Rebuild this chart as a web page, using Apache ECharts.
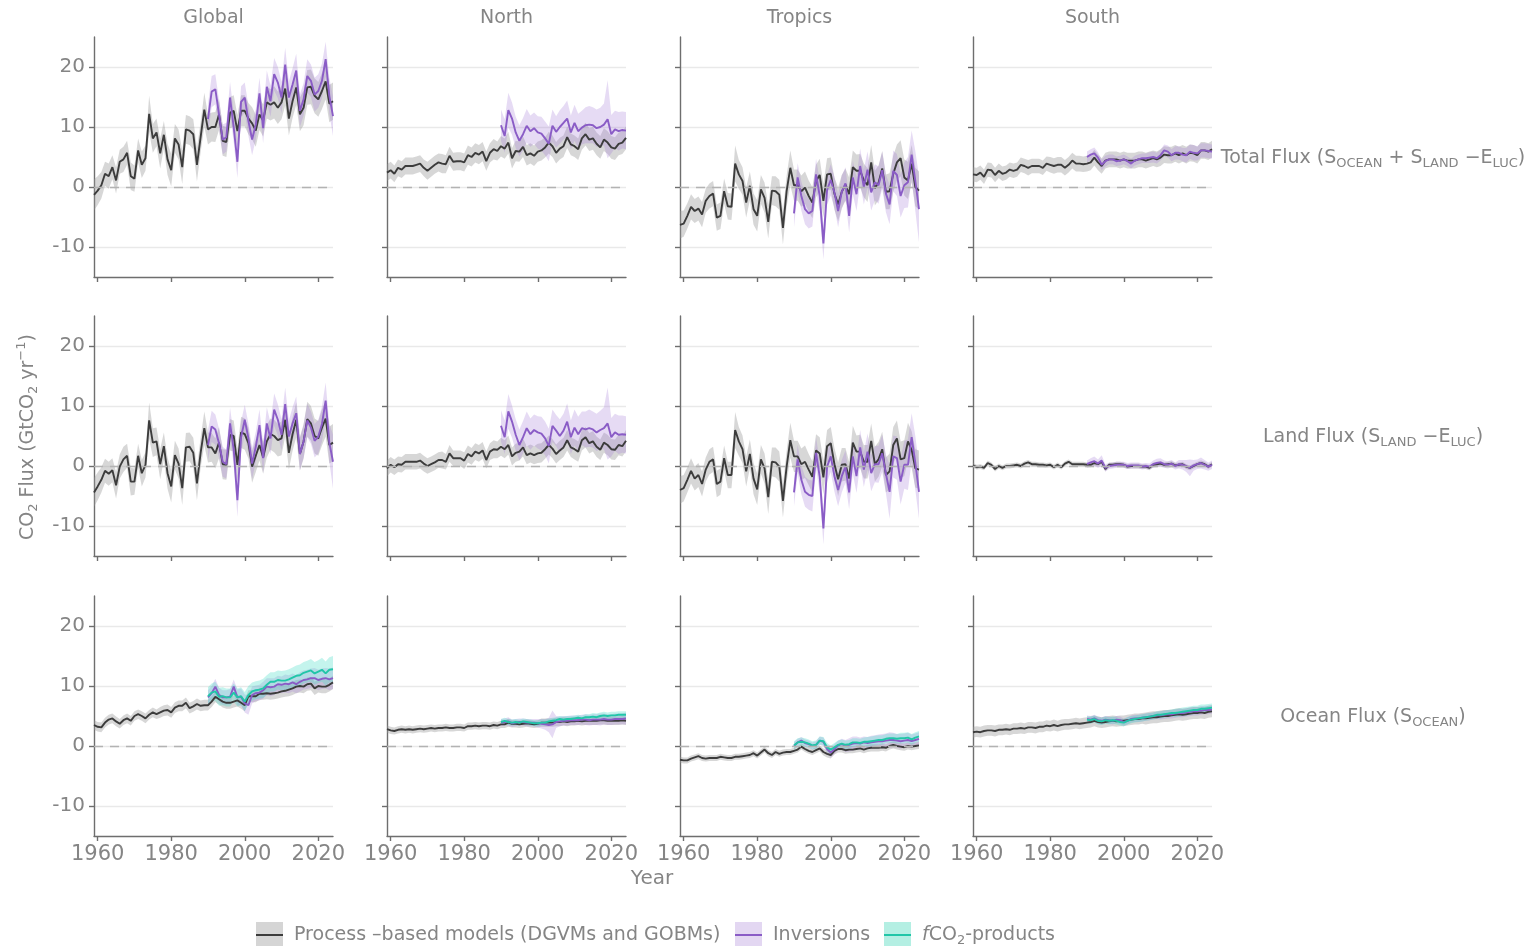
<!DOCTYPE html>
<html>
<head>
<meta charset="utf-8">
<script src="https://cdn.jsdelivr.net/npm/echarts@6/dist/echarts.min.js"></script>
<style>
  html, body { margin: 0; padding: 0; background: #fff; }
  #chart { width: 1534px; height: 946px; }
</style>
</head>
<body>
<div id="chart"></div>
<script>
// years: process models 1959-2024, inversions / fCO2 products 1990-2024
const years = [];
for (let y = 1959; y <= 2024; y++) years.push(y);
const obsYears = years.filter((y) => y >= 1990);

const colNames = ["Global", "North", "Tropics", "South"];
const xTicks = [1960, 1980, 2000, 2020];
const yTicks = [-10, 0, 10, 20];

// ---- Global ----
const procGlobalTotal = [
  -1.3, -0.6, 0.3, 2.2, 1.8, 3.3, 1.1, 4.2, 4.6, 5.7, 1.8,
  1.4, 6.1, 3.7, 4.8, 12.2, 8.1, 9.1, 5.6, 8.7, 4.6,
  2.8, 8.1, 7.1, 3.3, 9.6, 9.4, 8.8, 3.7, 8.3, 12.9,
  9.6, 10.0, 10.0, 12.1, 7.7, 7.5, 12.4, 12.7, 9.3, 12.7,
  12.7, 11.4, 10.6, 9.4, 12.1, 11.1, 14.1, 13.7, 14.1, 13.2,
  14.1, 16.4, 11.4, 14.3, 16.6, 12.1, 13.2, 16.6, 16.7, 15.2,
  14.6, 16.0, 17.6, 13.9, 14.3];
const procGlobalTotalSd = [
  2.6, 2.4, 2.2, 2.0, 2.1, 2.0, 2.2, 2.0, 2.1, 2.0, 2.3,
  2.2, 2.0, 2.2, 2.1, 3.0, 2.4, 2.3, 2.5, 2.3, 2.6,
  2.7, 2.4, 2.5, 2.8, 2.4, 2.4, 2.5, 2.8, 2.5, 2.8,
  2.5, 2.4, 2.5, 2.6, 2.5, 2.5, 2.6, 2.6, 2.7, 2.6,
  2.6, 2.6, 2.7, 2.7, 2.6, 2.7, 2.7, 2.6, 2.7, 2.7,
  2.8, 2.8, 2.8, 2.8, 2.9, 2.8, 2.9, 2.9, 2.9, 2.9,
  2.9, 3.0, 3.0, 3.1, 3.1];
const invGlobalTotal = [
  11.3, 15.9, 16.3, 12.1, 7.9, 8.3, 14.9, 9.9, 4.2, 14.2,
  14.9, 11.0, 7.9, 10.4, 15.6, 9.8, 16.7, 14.3, 18.8, 17.4,
  14.9, 20.4, 14.9, 17.1, 19.4, 12.7, 14.6, 18.5, 17.7, 15.4,
  16.0, 17.7, 21.3, 15.2, 11.8];
const invGlobalTotalSd = [
  2.5, 2.6, 2.5, 2.4, 2.5, 2.4, 2.6, 2.5, 2.7, 2.6,
  2.5, 2.5, 2.6, 2.5, 2.6, 2.5, 2.7, 2.6, 2.7, 2.6,
  2.6, 2.8, 2.7, 2.7, 2.8, 2.7, 2.7, 2.8, 2.7, 2.8,
  2.8, 2.9, 2.9, 3.0, 3.3];

const procGlobalLand = [
  -4.4, -3.4, -2.3, -0.8, -1.3, -0.7, -3.2, -0.1, 1.1, 1.7, -2.6,
  -2.6, 1.7, -1.2, 0.2, 7.6, 3.9, 4.1, 0.3, 3.3, -1.2,
  -3.4, 1.8, 0.4, -3.7, 3.1, 3.2, 2.2, -2.9, 2.2, 6.3,
  3.1, 3.1, 2.1, 3.9, 0.3, 0.2, 5.2, 5.0, 0.2, 5.6,
  5.3, 3.8, -0.1, 1.7, 3.5, 1.4, 4.1, 5.3, 5.0, 4.3,
  4.6, 7.7, 2.2, 5.3, 7.7, 2.0, 4.1, 7.8, 7.1, 5.0,
  4.6, 6.4, 7.9, 3.5, 3.9];
const procGlobalLandSd = [
  2.4, 2.3, 2.1, 2.0, 2.0, 2.0, 2.2, 2.0, 2.1, 2.0, 2.3,
  2.2, 2.0, 2.2, 2.1, 3.0, 2.4, 2.3, 2.5, 2.3, 2.6,
  2.7, 2.4, 2.5, 2.8, 2.4, 2.4, 2.5, 2.8, 2.5, 2.8,
  2.5, 2.4, 2.5, 2.6, 2.5, 2.5, 2.6, 2.6, 2.7, 2.6,
  2.6, 2.6, 2.7, 2.7, 2.6, 2.7, 2.7, 2.6, 2.7, 2.7,
  2.8, 2.8, 2.8, 2.8, 2.9, 2.8, 2.9, 2.9, 2.9, 2.9,
  2.9, 3.0, 3.0, 3.1, 3.1];
const invGlobalLand = [
  3.5, 6.6, 6.1, 3.8, 0.7, 0.3, 7.1, 2.7, -5.7, 4.8,
  7.7, 4.6, 0.4, 3.2, 6.8, 1.3, 7.1, 4.6, 9.4, 7.7,
  5.2, 10.3, 4.9, 7.1, 8.8, 2.0, 4.1, 7.6, 6.4, 4.2,
  4.9, 7.0, 10.9, 3.9, 0.7];
const invGlobalLandSd = [
  2.5, 2.6, 2.5, 2.4, 2.5, 2.4, 2.6, 2.5, 2.8, 2.6,
  2.5, 2.5, 2.6, 2.5, 2.6, 2.5, 2.7, 2.6, 2.7, 2.6,
  2.6, 2.8, 2.7, 2.7, 2.8, 2.7, 2.7, 2.8, 2.7, 2.8,
  2.8, 2.9, 3.0, 3.2, 4.5];

const procGlobalOcean = [
  3.5, 3.2, 3.1, 3.9, 4.4, 4.6, 4.1, 3.7, 4.3, 4.6, 4.2,
  5.0, 5.3, 5.0, 4.6, 5.2, 5.6, 5.3, 5.6, 5.9, 6.0,
  5.6, 6.4, 6.7, 6.7, 7.2, 6.3, 6.6, 7.0, 6.7, 6.8,
  6.8, 7.4, 8.2, 7.8, 7.4, 7.2, 7.2, 7.4, 7.6, 7.2,
  6.8, 8.3, 8.3, 8.3, 8.7, 8.7, 8.8, 8.7, 8.8, 8.9,
  9.1, 9.2, 9.4, 9.6, 9.9, 10.0, 9.9, 10.3, 10.4, 9.6,
  10.0, 9.9, 9.9, 10.2, 10.6];
const procGlobalOceanSd = [
  0.8, 0.8, 0.8, 0.8, 0.8, 0.8, 0.8, 0.8, 0.8, 0.8, 0.8,
  0.8, 0.8, 0.8, 0.8, 0.8, 0.8, 0.8, 0.9, 0.9, 0.9,
  0.9, 0.9, 0.9, 0.9, 0.9, 0.9, 0.9, 0.9, 0.9, 0.9,
  0.9, 0.9, 0.9, 0.9, 1.0, 1.0, 1.0, 1.0, 1.0, 1.0,
  1.0, 1.0, 1.0, 1.0, 1.0, 1.0, 1.0, 1.0, 1.0, 1.0,
  1.0, 1.0, 1.1, 1.1, 1.1, 1.1, 1.1, 1.1, 1.1, 1.1,
  1.1, 1.1, 1.1, 1.1, 1.1];
const invGlobalOcean = [
  8.1, 8.8, 9.9, 8.5, 8.1, 8.1, 8.2, 9.9, 8.1, 8.2,
  7.1, 6.8, 8.5, 8.8, 8.9, 9.3, 9.9, 9.8, 9.9, 10.3,
  10.2, 10.4, 10.3, 10.6, 10.3, 10.7, 11.0, 11.1, 11.3, 11.3,
  11.0, 11.2, 11.3, 11.1, 11.3];
const invGlobalOceanSd = [
  1.2, 1.2, 1.3, 1.2, 1.2, 1.2, 1.3, 1.2, 1.3, 1.4,
  1.5, 1.6, 1.4, 1.3, 1.3, 1.4, 1.4, 1.5, 1.4, 1.4,
  1.4, 1.5, 1.5, 1.5, 1.5, 1.6, 1.6, 1.6, 1.6, 1.7,
  1.7, 1.7, 1.7, 1.8, 1.8];
const fco2GlobalOcean = [
  8.3, 8.9, 9.1, 8.2, 8.3, 8.1, 8.1, 8.9, 8.1, 8.3,
  7.4, 8.5, 9.1, 9.3, 9.4, 9.6, 10.2, 10.7, 10.7, 11.0,
  10.9, 10.9, 11.1, 11.4, 11.7, 11.8, 12.2, 12.4, 12.6, 12.1,
  12.4, 12.7, 12.1, 12.7, 12.8];
const fco2GlobalOceanSd = [
  1.5, 1.5, 1.6, 1.5, 1.5, 1.5, 1.5, 1.5, 1.5, 1.5,
  1.6, 1.5, 1.5, 1.5, 1.5, 1.6, 1.6, 1.6, 1.6, 1.6,
  1.6, 1.7, 1.7, 1.7, 1.7, 1.8, 1.8, 1.8, 1.9, 1.9,
  1.9, 2.0, 2.0, 2.1, 2.2];

// ---- North ----
const procNorthTotal = [
  2.4, 2.8, 2.2, 3.2, 2.9, 3.5, 3.5, 3.5, 3.7, 3.9, 3.2,
  2.7, 3.2, 3.7, 4.1, 3.9, 3.8, 5.2, 4.2, 4.3, 4.3,
  4.1, 5.3, 5.0, 5.7, 5.4, 5.9, 4.3, 5.7, 6.3, 6.0,
  6.8, 6.4, 7.4, 4.8, 6.0, 5.9, 6.7, 5.3, 5.6, 5.2,
  5.9, 6.1, 6.6, 7.4, 6.8, 5.7, 6.4, 6.8, 8.3, 7.1,
  6.8, 6.3, 8.1, 8.8, 7.9, 8.1, 7.2, 6.6, 7.9, 7.4,
  6.6, 6.4, 7.2, 7.4, 8.2];
const procNorthTotalSd = [
  1.4, 1.4, 1.4, 1.4, 1.4, 1.4, 1.4, 1.4, 1.4, 1.4, 1.4,
  1.5, 1.5, 1.5, 1.5, 1.6, 1.5, 1.5, 1.5, 1.5, 1.5,
  1.5, 1.6, 1.6, 1.6, 1.6, 1.6, 1.6, 1.6, 1.7, 1.6,
  1.7, 1.7, 1.8, 1.7, 1.7, 1.7, 1.7, 1.7, 1.7, 1.7,
  1.7, 1.7, 1.7, 1.8, 1.8, 1.8, 1.8, 1.8, 1.8, 1.8,
  1.8, 1.8, 1.9, 1.9, 1.9, 1.9, 1.9, 1.9, 1.9, 1.9,
  1.9, 1.9, 1.9, 1.9, 1.9];
const invNorthTotal = [
  10.3, 8.5, 12.8, 11.4, 9.1, 7.7, 8.8, 10.2, 9.3, 9.8,
  9.1, 8.9, 8.1, 7.2, 10.2, 9.2, 10.0, 10.7, 11.4, 9.1,
  10.7, 9.3, 9.9, 10.3, 10.4, 10.3, 9.8, 10.0, 10.4, 11.3,
  8.8, 9.6, 9.3, 9.5, 9.4];
const invNorthTotalSd = [
  2.6, 2.8, 2.9, 2.7, 2.6, 2.6, 2.7, 2.8, 2.6, 2.6,
  2.7, 2.8, 2.8, 2.9, 2.7, 2.6, 2.8, 2.8, 3.0, 2.8,
  3.0, 2.9, 2.8, 3.0, 3.1, 3.0, 3.1, 3.2, 3.5, 6.5,
  3.2, 3.1, 3.2, 3.1, 3.1];

const procNorthLand = [
  -0.4, 0.2, -0.2, 0.3, 0.2, 0.7, 0.7, 0.7, 0.7, 0.9, 0.4,
  0.0, 0.3, 0.6, 1.0, 1.0, 0.7, 2.1, 1.3, 1.3, 1.3,
  0.9, 2.0, 1.6, 2.4, 2.1, 2.6, 1.0, 2.4, 2.8, 2.7,
  3.2, 2.8, 3.5, 1.6, 2.2, 2.4, 3.1, 1.8, 2.1, 1.8,
  2.1, 2.2, 2.8, 3.5, 2.9, 2.0, 2.6, 3.1, 4.3, 3.1,
  2.8, 2.4, 4.3, 4.8, 3.8, 4.1, 3.2, 2.7, 3.9, 3.5,
  2.8, 2.7, 3.5, 3.3, 4.2];
const procNorthLandSd = [
  1.3, 1.3, 1.3, 1.3, 1.3, 1.3, 1.3, 1.3, 1.3, 1.3, 1.3,
  1.3, 1.3, 1.3, 1.3, 1.4, 1.3, 1.4, 1.3, 1.3, 1.3,
  1.4, 1.4, 1.4, 1.4, 1.4, 1.4, 1.4, 1.4, 1.5, 1.4,
  1.5, 1.5, 1.6, 1.5, 1.5, 1.5, 1.5, 1.5, 1.5, 1.5,
  1.6, 1.6, 1.6, 1.6, 1.6, 1.6, 1.6, 1.6, 1.7, 1.6,
  1.7, 1.7, 1.7, 1.7, 1.7, 1.7, 1.7, 1.7, 1.7, 1.7,
  1.7, 1.7, 1.7, 1.7, 1.8];
const invNorthLand = [
  6.7, 4.8, 9.1, 7.4, 5.2, 3.5, 4.8, 6.3, 5.3, 6.0,
  5.6, 5.4, 4.6, 3.3, 6.7, 5.9, 5.0, 5.9, 7.4, 4.8,
  6.4, 5.3, 6.3, 6.1, 6.3, 6.1, 5.6, 6.0, 6.3, 7.1,
  4.8, 5.6, 5.2, 5.3, 5.2];
const invNorthLandSd = [
  2.6, 2.8, 2.9, 2.7, 2.6, 2.6, 2.7, 2.8, 2.6, 2.6,
  2.7, 2.8, 2.8, 2.9, 2.7, 2.6, 2.8, 2.8, 3.0, 2.8,
  3.0, 2.9, 2.8, 3.0, 3.1, 3.0, 3.1, 3.2, 3.5, 6.0,
  3.2, 3.1, 3.2, 3.1, 3.1];

const procNorthOcean = [
  2.8, 2.6, 2.5, 2.7, 2.8, 2.7, 2.8, 2.7, 2.8, 2.9, 2.8,
  2.9, 3.0, 2.9, 3.0, 3.0, 3.1, 3.0, 3.0, 3.1, 3.1,
  3.0, 3.3, 3.3, 3.4, 3.3, 3.4, 3.4, 3.3, 3.5, 3.4,
  3.6, 3.6, 3.9, 3.7, 3.7, 3.6, 3.7, 3.8, 3.7, 3.6,
  3.7, 3.9, 3.9, 3.9, 3.9, 4.0, 4.0, 4.1, 4.0, 4.1,
  4.1, 4.2, 4.1, 4.2, 4.2, 4.2, 4.2, 4.3, 4.3, 4.2,
  4.2, 4.2, 4.2, 4.3, 4.2];
const procNorthOceanSd = [
  0.6, 0.6, 0.6, 0.6, 0.6, 0.6, 0.6, 0.6, 0.6, 0.6, 0.6,
  0.6, 0.6, 0.6, 0.6, 0.6, 0.6, 0.6, 0.6, 0.6, 0.6,
  0.6, 0.6, 0.6, 0.6, 0.6, 0.6, 0.6, 0.6, 0.6, 0.6,
  0.6, 0.6, 0.7, 0.6, 0.6, 0.6, 0.6, 0.6, 0.6, 0.6,
  0.6, 0.7, 0.7, 0.7, 0.7, 0.7, 0.7, 0.7, 0.7, 0.7,
  0.7, 0.7, 0.7, 0.7, 0.7, 0.7, 0.7, 0.7, 0.7, 0.7,
  0.7, 0.7, 0.7, 0.7, 0.7];
const invNorthOcean = [
  3.9, 4.0, 4.1, 3.8, 3.9, 4.0, 4.0, 3.9, 3.9, 3.9,
  3.8, 3.7, 3.6, 3.5, 3.6, 4.0, 4.1, 4.2, 4.2, 4.3,
  4.3, 4.3, 4.4, 4.4, 4.3, 4.4, 4.4, 4.4, 4.5, 4.4,
  4.4, 4.5, 4.5, 4.5, 4.6];
const invNorthOceanSd = [
  0.6, 0.6, 0.7, 0.6, 0.6, 0.6, 0.6, 0.6, 0.6, 0.6,
  0.7, 0.8, 0.9, 1.2, 2.3, 1.0, 0.8, 0.8, 0.8, 0.8,
  0.8, 0.8, 0.8, 0.9, 0.9, 0.9, 0.9, 1.0, 0.9, 0.9,
  0.9, 0.9, 0.9, 0.9, 1.0];
const fco2NorthOcean = [
  4.0, 4.2, 4.0, 3.9, 4.0, 3.9, 4.1, 4.0, 3.9, 3.8,
  3.8, 3.9, 3.9, 4.1, 4.2, 4.3, 4.5, 4.4, 4.5, 4.5,
  4.6, 4.7, 4.6, 4.8, 4.8, 4.9, 4.8, 5.0, 5.1, 5.0,
  5.1, 5.1, 5.2, 5.2, 5.2];
const fco2NorthOceanSd = [
  0.5, 0.5, 0.5, 0.5, 0.5, 0.5, 0.5, 0.5, 0.5, 0.5,
  0.5, 0.5, 0.5, 0.5, 0.5, 0.5, 0.5, 0.5, 0.5, 0.5,
  0.5, 0.5, 0.5, 0.5, 0.5, 0.6, 0.6, 0.6, 0.6, 0.6,
  0.6, 0.6, 0.6, 0.6, 0.6];

// ---- Tropics ----
const procTropicsTotal = [
  -6.3, -6.1, -4.8, -3.3, -4.0, -3.6, -4.6, -2.3, -1.5, -1.1, -5.1,
  -4.8, -0.7, -3.2, -3.3, 3.9, 2.1, 1.0, -2.6, 0.2, -3.7,
  -4.8, -0.4, -1.8, -5.8, -0.6, -0.7, -1.3, -6.8, -0.7, 3.2,
  0.3, 0.3, -0.7, -0.1, -1.5, -2.6, 1.0, 2.0, -2.3, 2.1,
  2.2, -1.1, -2.9, -0.8, 0.4, -1.2, 3.3, 2.7, 2.7, 1.1,
  0.3, 4.1, -0.2, 0.7, 3.1, -0.8, -0.7, 2.2, 4.1, 4.8,
  1.6, 1.1, 3.9, 0.0, -0.6];
const procTropicsTotalSd = [
  2.3, 2.2, 2.1, 2.1, 2.0, 2.0, 2.1, 2.0, 2.1, 2.1, 2.2,
  2.2, 2.1, 2.2, 2.2, 3.0, 2.4, 2.3, 2.5, 2.4, 2.6,
  2.6, 2.4, 2.5, 2.8, 2.4, 2.5, 2.5, 2.8, 2.6, 2.9,
  2.6, 2.6, 2.6, 2.7, 2.6, 2.6, 2.7, 2.7, 2.8, 2.7,
  2.7, 2.7, 2.8, 2.8, 2.7, 2.8, 2.8, 2.7, 2.8, 2.8,
  2.8, 2.9, 2.9, 2.9, 2.9, 2.9, 3.0, 3.0, 3.0, 3.0,
  3.0, 3.1, 3.1, 3.2, 3.2];
const invTropicsTotal = [
  -4.4, 1.6, -1.5, -3.7, -4.4, -4.0, 2.1, -1.5, -9.4, -0.5,
  1.2, -0.9, -4.0, -0.8, 0.6, -4.8, 1.6, -1.2, 3.5, 0.0,
  2.9, -0.9, 0.8, 0.3, 2.8, -1.1, -2.9, 2.7, 2.0, -1.5,
  0.3, 0.8, 5.4, 1.0, -3.7];
const invTropicsTotalSd = [
  2.3, 2.4, 2.4, 2.5, 2.5, 2.6, 2.6, 2.6, 2.7, 2.5,
  2.6, 2.6, 2.7, 2.7, 2.7, 2.8, 2.8, 2.8, 2.9, 2.9,
  3.0, 3.0, 3.0, 3.1, 3.1, 3.1, 3.3, 3.4, 3.5, 3.6,
  3.8, 4.2, 4.0, 5.0, 5.5];

const procTropicsLand = [
  -4.0, -3.7, -2.3, -0.8, -2.1, -1.5, -3.0, -0.6, 0.7, 1.1, -3.0,
  -2.6, 1.3, -1.5, -1.5, 6.0, 4.1, 2.8, -0.9, 2.0, -2.1,
  -3.9, 1.1, -0.4, -5.2, 0.7, 0.6, -0.1, -5.8, -0.1, 4.3,
  1.6, 1.6, 0.3, 0.7, -0.6, -1.8, 2.6, 2.1, -1.9, 3.3,
  3.8, 0.3, -2.2, 0.2, 0.3, -2.1, 3.9, 2.4, 2.4, 0.7,
  0.7, 4.2, 0.3, 1.1, 2.8, -1.5, -0.9, 3.5, 4.6, 1.1,
  1.3, 4.1, 2.7, -0.4, -0.6];
const procTropicsLandSd = [
  2.3, 2.2, 2.1, 2.1, 2.0, 2.0, 2.1, 2.0, 2.1, 2.1, 2.2,
  2.2, 2.1, 2.2, 2.2, 3.0, 2.4, 2.3, 2.5, 2.4, 2.6,
  2.6, 2.4, 2.5, 2.8, 2.4, 2.5, 2.5, 2.8, 2.6, 2.9,
  2.6, 2.6, 2.6, 2.7, 2.6, 2.6, 2.7, 2.7, 2.8, 2.7,
  2.7, 2.7, 2.8, 2.8, 2.7, 2.8, 2.8, 2.7, 2.8, 2.8,
  2.8, 2.9, 2.9, 2.9, 2.9, 2.9, 3.0, 3.0, 3.0, 3.0,
  3.0, 3.1, 3.1, 3.2, 3.2];
const invTropicsLand = [
  -4.4, 1.1, -2.3, -4.3, -4.8, -5.0, 2.2, -1.8, -10.4, -0.1,
  1.6, -1.7, -4.0, -1.7, -0.1, -4.4, 1.6, -1.7, 3.1, -0.6,
  2.4, -1.2, 0.3, 0.3, 2.1, -1.3, -4.3, 1.6, 1.3, -2.6,
  0.2, 0.2, 4.8, 0.5, -4.3];
const invTropicsLandSd = [
  2.3, 2.4, 2.4, 2.5, 2.5, 2.6, 2.6, 2.6, 2.7, 2.6,
  2.6, 2.6, 2.7, 2.7, 2.7, 2.8, 2.8, 2.8, 2.9, 2.9,
  3.0, 3.0, 3.0, 3.1, 3.1, 3.2, 4.5, 3.5, 3.6, 3.8,
  4.0, 4.2, 4.0, 4.5, 4.5];

const procTropicsOcean = [
  -2.3, -2.4, -2.4, -2.1, -1.9, -1.7, -2.0, -2.1, -2.0, -2.0, -2.0,
  -1.8, -1.9, -2.0, -2.0, -1.8, -1.8, -1.7, -1.6, -1.5, -1.2,
  -1.6, -1.1, -0.6, -1.2, -1.5, -1.0, -1.3, -1.1, -1.0, -1.0,
  -0.8, -0.6, -0.1, -0.5, -0.8, -1.0, -0.7, -0.4, -1.0, -1.3,
  -1.5, -0.8, -0.5, -0.5, -0.7, -0.6, -0.6, -0.5, -0.4, -0.6,
  -0.4, -0.3, -0.3, -0.3, -0.2, -0.3, 0.0, 0.2, 0.0, -0.1,
  -0.2, 0.0, -0.1, 0.0, 0.1];
const procTropicsOceanSd = [
  0.5, 0.5, 0.5, 0.5, 0.5, 0.5, 0.5, 0.5, 0.5, 0.5, 0.5,
  0.5, 0.5, 0.5, 0.5, 0.5, 0.5, 0.5, 0.5, 0.5, 0.5,
  0.5, 0.5, 0.5, 0.5, 0.5, 0.5, 0.5, 0.5, 0.5, 0.5,
  0.5, 0.5, 0.5, 0.5, 0.5, 0.5, 0.5, 0.5, 0.6, 0.6,
  0.6, 0.6, 0.6, 0.6, 0.6, 0.6, 0.6, 0.6, 0.6, 0.6,
  0.6, 0.6, 0.6, 0.6, 0.6, 0.6, 0.6, 0.6, 0.6, 0.6,
  0.6, 0.6, 0.6, 0.6, 0.6];
const invTropicsOcean = [
  0.0, 0.6, 0.9, 0.5, 0.3, 0.0, 0.2, 0.9, 0.7, -0.5,
  -1.1, -0.5, 0.1, 0.3, 0.0, 0.2, 0.4, 0.5, 0.4, 0.6,
  0.5, 0.6, 0.7, 0.8, 0.8, 0.9, 1.0, 1.0, 0.9, 0.8,
  0.9, 1.0, 0.8, 1.0, 1.2];
const invTropicsOceanSd = [
  0.6, 0.6, 0.6, 0.6, 0.6, 0.6, 0.6, 0.7, 0.7, 0.7,
  0.8, 0.8, 0.8, 0.9, 1.0, 1.1, 1.2, 1.1, 1.0, 1.0,
  1.0, 1.1, 1.1, 1.1, 1.2, 1.2, 1.3, 1.2, 1.1, 1.2,
  1.2, 1.2, 1.1, 1.1, 1.1];
const fco2TropicsOcean = [
  0.1, 0.6, 0.7, 0.6, 0.4, 0.1, 0.2, 0.9, 0.8, -0.2,
  -0.6, -0.2, 0.2, 0.4, 0.2, 0.3, 0.6, 0.6, 0.5, 0.7,
  0.7, 0.8, 0.9, 1.0, 1.0, 1.2, 1.3, 1.3, 1.2, 1.3,
  1.3, 1.4, 1.1, 1.4, 1.6];
const fco2TropicsOceanSd = [
  0.7, 0.7, 0.7, 0.7, 0.7, 0.7, 0.7, 0.7, 0.7, 0.7,
  0.7, 0.7, 0.7, 0.7, 0.7, 0.7, 0.7, 0.7, 0.7, 0.7,
  0.8, 0.8, 0.8, 0.8, 0.8, 0.8, 0.8, 0.8, 0.8, 0.9,
  0.9, 0.9, 0.9, 0.9, 0.9];

// ---- South ----
const procSouthTotal = [
  2.1, 2.0, 2.4, 1.7, 2.9, 2.8, 2.0, 2.7, 2.2, 2.4, 2.9,
  2.7, 2.9, 3.7, 3.5, 3.2, 3.5, 3.5, 3.5, 3.2, 3.9,
  3.7, 3.5, 3.7, 3.7, 3.2, 3.7, 4.4, 3.9, 3.9, 3.8,
  3.9, 4.1, 4.9, 4.1, 3.5, 4.4, 4.6, 4.6, 4.6, 4.4,
  4.6, 4.4, 4.4, 4.4, 4.6, 4.6, 4.4, 4.6, 4.8, 4.6,
  4.9, 5.4, 5.3, 5.3, 5.6, 5.3, 5.6, 5.3, 5.7, 5.6,
  5.3, 6.1, 6.1, 5.9, 6.3];
const procSouthTotalSd = [
  1.2, 1.2, 1.2, 1.2, 1.2, 1.2, 1.2, 1.2, 1.2, 1.2, 1.2,
  1.2, 1.2, 1.2, 1.2, 1.3, 1.2, 1.2, 1.2, 1.2, 1.2,
  1.3, 1.3, 1.3, 1.3, 1.3, 1.3, 1.3, 1.3, 1.3, 1.3,
  1.3, 1.3, 1.3, 1.3, 1.3, 1.3, 1.3, 1.3, 1.3, 1.3,
  1.3, 1.3, 1.3, 1.3, 1.3, 1.3, 1.3, 1.3, 1.3, 1.3,
  1.4, 1.4, 1.4, 1.4, 1.4, 1.4, 1.4, 1.4, 1.4, 1.4,
  1.4, 1.4, 1.4, 1.4, 1.4];
const invSouthTotal = [
  5.0, 5.4, 5.6, 4.9, 3.7, 4.3, 4.6, 4.6, 4.3, 4.4,
  4.6, 4.3, 3.9, 4.4, 4.6, 4.8, 4.8, 4.9, 5.0, 4.8,
  5.3, 6.1, 5.9, 5.3, 5.7, 5.7, 5.4, 5.3, 5.9, 5.7,
  5.6, 6.1, 6.1, 6.0, 5.9];
const invSouthTotalSd = [
  0.9, 0.9, 1.0, 0.9, 0.9, 0.9, 0.8, 0.8, 0.8, 0.8,
  0.8, 0.8, 0.8, 0.8, 0.8, 0.8, 0.8, 0.9, 0.9, 0.9,
  0.9, 1.0, 1.0, 1.0, 1.1, 1.1, 1.1, 1.2, 1.2, 1.3,
  1.2, 1.2, 1.2, 1.2, 1.2];

const procSouthLand = [
  0.1, -0.2, -0.1, -0.3, 0.5, 0.2, -0.5, 0.0, -0.3, 0.0, 0.0,
  0.1, 0.2, 0.0, 0.4, 0.6, 0.3, 0.3, 0.2, 0.2, 0.1,
  0.2, -0.2, 0.2, -0.2, 0.4, 0.7, 0.3, 0.3, 0.3, 0.3,
  0.2, 0.2, 0.5, 0.3, 0.7, -0.5, 0.2, 0.2, 0.3, 0.3,
  0.2, -0.1, 0.0, 0.0, 0.0, -0.1, -0.1, -0.3, 0.2, 0.3,
  0.4, 0.2, 0.3, 0.4, 0.1, 0.2, 0.3, -0.1, -0.3, 0.0,
  0.3, 0.5, 0.3, -0.1, 0.3];
const procSouthLandSd = [
  0.4, 0.4, 0.4, 0.4, 0.4, 0.4, 0.4, 0.4, 0.4, 0.4, 0.4,
  0.4, 0.4, 0.4, 0.4, 0.4, 0.4, 0.4, 0.4, 0.4, 0.4,
  0.4, 0.4, 0.4, 0.4, 0.4, 0.4, 0.4, 0.4, 0.4, 0.4,
  0.4, 0.4, 0.4, 0.4, 0.4, 0.4, 0.4, 0.4, 0.4, 0.4,
  0.4, 0.4, 0.4, 0.4, 0.4, 0.4, 0.4, 0.4, 0.4, 0.4,
  0.4, 0.4, 0.4, 0.4, 0.4, 0.4, 0.4, 0.4, 0.4, 0.4,
  0.4, 0.4, 0.4, 0.4, 0.4];
const invSouthLand = [
  0.3, 0.6, 0.8, 0.4, 0.9, -0.3, 0.0, 0.1, 0.2, 0.2,
  0.2, 0.0, 0.1, 0.1, 0.1, -0.1, 0.0, -0.1, 0.3, 0.5,
  0.6, 0.3, 0.2, 0.4, 0.0, 0.3, 0.2, 0.0, -0.3, 0.1,
  0.3, 0.5, 0.2, -0.1, 0.2];
const invSouthLandSd = [
  0.6, 0.7, 0.8, 0.7, 0.9, 0.6, 0.5, 0.5, 0.5, 0.5,
  0.5, 0.5, 0.5, 0.5, 0.5, 0.5, 0.5, 0.5, 0.6, 0.7,
  0.7, 0.6, 0.6, 0.6, 0.6, 0.7, 0.8, 1.0, 1.4, 0.9,
  0.8, 0.9, 0.8, 0.7, 0.7];

const procSouthOcean = [
  2.3, 2.4, 2.3, 2.5, 2.6, 2.6, 2.5, 2.7, 2.7, 2.8, 2.7,
  2.9, 2.9, 3.0, 2.9, 3.1, 3.1, 3.0, 3.2, 3.2, 3.4,
  3.3, 3.5, 3.3, 3.5, 3.6, 3.6, 3.7, 3.8, 3.7, 3.8,
  3.9, 4.0, 4.2, 4.0, 3.9, 4.0, 4.1, 4.2, 4.1, 4.2,
  4.2, 4.3, 4.4, 4.5, 4.5, 4.6, 4.6, 4.7, 4.8, 4.8,
  4.9, 5.0, 5.0, 5.1, 5.2, 5.3, 5.2, 5.3, 5.4, 5.5,
  5.5, 5.6, 5.5, 5.7, 5.8];
const procSouthOceanSd = [
  0.9, 0.9, 0.9, 0.9, 0.9, 0.9, 0.9, 0.9, 0.9, 0.9, 0.9,
  0.9, 0.9, 0.9, 0.9, 0.9, 0.9, 0.9, 0.9, 0.9, 0.9,
  0.9, 0.9, 0.9, 0.9, 0.9, 0.9, 0.9, 0.9, 0.9, 0.9,
  0.9, 0.9, 0.9, 0.9, 0.9, 0.9, 0.9, 0.9, 0.9, 0.9,
  0.9, 0.9, 0.9, 0.9, 0.9, 0.9, 1.0, 1.0, 1.0, 1.0,
  1.0, 1.0, 1.0, 1.0, 1.0, 1.0, 1.0, 1.0, 1.0, 1.0,
  1.0, 1.0, 1.0, 1.0, 1.0];
const invSouthOcean = [
  4.5, 4.4, 4.6, 4.3, 4.2, 4.4, 4.3, 4.2, 4.4, 4.3,
  4.0, 4.2, 4.5, 4.6, 4.6, 4.7, 4.8, 4.9, 5.0, 5.1,
  5.1, 5.2, 5.3, 5.3, 5.4, 5.5, 5.5, 5.6, 5.7, 5.8,
  5.8, 5.9, 6.0, 6.0, 6.1];
const invSouthOceanSd = [
  0.6, 0.6, 0.6, 0.6, 0.6, 0.6, 0.6, 0.6, 0.6, 0.6,
  0.6, 0.6, 0.6, 0.6, 0.6, 0.6, 0.6, 0.6, 0.6, 0.6,
  0.7, 0.7, 0.7, 0.7, 0.7, 0.7, 0.7, 0.7, 0.7, 0.7,
  0.7, 0.7, 0.7, 0.7, 0.7];
const fco2SouthOcean = [
  4.4, 4.3, 4.5, 4.2, 4.1, 4.3, 4.2, 4.3, 4.2, 4.0,
  3.9, 4.2, 4.4, 4.5, 4.6, 4.7, 4.8, 4.9, 5.0, 5.2,
  5.2, 5.3, 5.4, 5.5, 5.5, 5.6, 5.7, 5.8, 5.9, 6.0,
  6.0, 6.2, 6.2, 6.3, 6.4];
const fco2SouthOceanSd = [
  0.6, 0.6, 0.6, 0.6, 0.6, 0.6, 0.6, 0.6, 0.6, 0.6,
  0.6, 0.6, 0.6, 0.6, 0.6, 0.6, 0.6, 0.6, 0.6, 0.6,
  0.6, 0.6, 0.6, 0.6, 0.7, 0.7, 0.7, 0.7, 0.7, 0.7,
  0.7, 0.7, 0.7, 0.7, 0.7];

// panels, row by row (Total, Land, Ocean) x (Global, North, Tropics, South)
const panels = [
  { proc: procGlobalTotal, procSd: procGlobalTotalSd, inv: invGlobalTotal, invSd: invGlobalTotalSd },
  { proc: procNorthTotal, procSd: procNorthTotalSd, inv: invNorthTotal, invSd: invNorthTotalSd },
  { proc: procTropicsTotal, procSd: procTropicsTotalSd, inv: invTropicsTotal, invSd: invTropicsTotalSd },
  { proc: procSouthTotal, procSd: procSouthTotalSd, inv: invSouthTotal, invSd: invSouthTotalSd },
  { proc: procGlobalLand, procSd: procGlobalLandSd, inv: invGlobalLand, invSd: invGlobalLandSd },
  { proc: procNorthLand, procSd: procNorthLandSd, inv: invNorthLand, invSd: invNorthLandSd },
  { proc: procTropicsLand, procSd: procTropicsLandSd, inv: invTropicsLand, invSd: invTropicsLandSd },
  { proc: procSouthLand, procSd: procSouthLandSd, inv: invSouthLand, invSd: invSouthLandSd },
  { proc: procGlobalOcean, procSd: procGlobalOceanSd, inv: invGlobalOcean, invSd: invGlobalOceanSd, fco2: fco2GlobalOcean, fco2Sd: fco2GlobalOceanSd },
  { proc: procNorthOcean, procSd: procNorthOceanSd, inv: invNorthOcean, invSd: invNorthOceanSd, fco2: fco2NorthOcean, fco2Sd: fco2NorthOceanSd },
  { proc: procTropicsOcean, procSd: procTropicsOceanSd, inv: invTropicsOcean, invSd: invTropicsOceanSd, fco2: fco2TropicsOcean, fco2Sd: fco2TropicsOceanSd },
  { proc: procSouthOcean, procSd: procSouthOceanSd, inv: invSouthOcean, invSd: invSouthOceanSd, fco2: fco2SouthOcean, fco2Sd: fco2SouthOceanSd },
];

panels.forEach((p, i) => {
  const bad = [];
  if (p.proc.length !== years.length || p.procSd.length !== years.length) bad.push("proc");
  if (p.inv.length !== obsYears.length || p.invSd.length !== obsYears.length) bad.push("inv");
  if (p.fco2 && (p.fco2.length !== obsYears.length || p.fco2Sd.length !== obsYears.length)) bad.push("fco2");
  if (bad.length) console.error("panel " + i + " length mismatch: " + bad.join(","));
});

const FONT = "DejaVu Sans";
const GREY_TXT = "#858585";
const AXIS_COL = "#6e6e6e";
const colLeft = [94, 387, 680, 973];
const rowTop = [37, 316, 596];
const panelW = 239, panelH = 240;

const colors = {
  proc: { line: "#3c3c3c", band: "rgba(150,150,150,0.38)", key: "#d5d5d5" },
  inv: { line: "#8a5cc6", band: "rgba(165,125,215,0.28)", key: "#e3d7f2" },
  fco2: { line: "#21c6a8", band: "rgba(70,220,200,0.32)", key: "#b4efe3" },
};

function band(gi, yrs, mean, sd, fill) {
  const data = yrs.map((y, i) => [y, mean[i] - sd[i], mean[i] + sd[i]]);
  return {
    type: "custom",
    xAxisIndex: gi, yAxisIndex: gi,
    silent: true, z: 1,
    data: data,
    encode: { x: 0, y: [1, 2] },
    renderItem: (params, api) => {
      if (params.dataIndex !== 0) return null;
      const up = data.map((d) => api.coord([d[0], d[2]]));
      const dn = data.map((d) => api.coord([d[0], d[1]])).reverse();
      return { type: "polygon", shape: { points: up.concat(dn) }, style: { fill: fill } };
    },
  };
}

function line(gi, yrs, vals, color, extra) {
  return Object.assign({
    type: "line",
    xAxisIndex: gi, yAxisIndex: gi,
    data: yrs.map((y, i) => [y, vals[i]]),
    showSymbol: false, symbol: "none",
    silent: true, z: 3,
    lineStyle: { color: color, width: 1.9 },
    itemStyle: { color: color },
  }, extra || {});
}

const grids = [], xAxes = [], yAxes = [], series = [];
panels.forEach((p, gi) => {
  const r = Math.floor(gi / 4), c = gi % 4;
  grids.push({ left: colLeft[c], top: rowTop[r], width: panelW, height: panelH });
  xAxes.push({
    type: "value", gridIndex: gi, min: 1959, max: 2024,
    axisLine: { show: true, onZero: false, lineStyle: { color: AXIS_COL, width: 1.4 } },
    axisTick: { show: true, length: 5, customValues: xTicks, lineStyle: { color: AXIS_COL, width: 1.4 } },
    axisLabel: {
      show: r === 2, customValues: xTicks, formatter: (v) => String(v),
      fontSize: 21, fontFamily: FONT, color: GREY_TXT, margin: 8,
    },
    splitLine: { show: false },
  });
  yAxes.push({
    type: "value", gridIndex: gi, min: -15, max: 25,
    axisLine: { show: true, onZero: false, lineStyle: { color: AXIS_COL, width: 1.4 } },
    axisTick: { show: true, length: 5, customValues: yTicks, lineStyle: { color: AXIS_COL, width: 1.4 } },
    axisLabel: { show: c === 0, customValues: yTicks, formatter: (v) => String(v), fontSize: 20, fontFamily: FONT, color: GREY_TXT, margin: 9 },
    splitLine: { show: true, lineStyle: { color: "#e9e9e9", width: 1.3 } },
  });

  series.push(band(gi, years, p.proc, p.procSd, colors.proc.band));
  series.push(band(gi, obsYears, p.inv, p.invSd, colors.inv.band));
  if (p.fco2) series.push(band(gi, obsYears, p.fco2, p.fco2Sd, colors.fco2.band));

  series.push(line(gi, years, p.proc, colors.proc.line, {
    markLine: {
      silent: true, symbol: "none", animation: false,
      label: { show: false },
      lineStyle: { type: [9, 7], color: "#b3b3b3", width: 1.4 },
      data: [{ yAxis: 0 }],
    },
  }));
  series.push(line(gi, obsYears, p.inv, colors.inv.line));
  if (p.fco2) series.push(line(gi, obsYears, p.fco2, colors.fco2.line));
});

// text elements
const txt = (x, y, text, size, extra) => ({
  type: "text", x: x, y: y, silent: true,
  style: Object.assign({ text: text, fill: GREY_TXT, fontSize: size, fontFamily: FONT, align: "center", verticalAlign: "middle" }, extra || {}),
});
const richSub = {
  b: { fontSize: 19, fontFamily: FONT, fill: GREY_TXT, lineHeight: 26, verticalAlign: "middle" },
  s: { fontSize: 13, fontFamily: FONT, fill: GREY_TXT, lineHeight: 26, verticalAlign: "bottom", padding: [0, 0, 1, 0] },
  p: { fontSize: 13, fontFamily: FONT, fill: GREY_TXT, lineHeight: 26, verticalAlign: "top" },
  i: { fontSize: 19, fontFamily: FONT, fontStyle: "italic", fill: GREY_TXT, lineHeight: 26, verticalAlign: "middle" },
};

const graphics = [];
colNames.forEach((n, c) => graphics.push(txt(colLeft[c] + panelW / 2, 18, n, 19)));
graphics.push(txt(652, 879, "Year", 20));

const rowLabels = [
  "{b|Total Flux (S}{s|OCEAN}{b| + S}{s|LAND}{b| \u2212E}{s|LUC}{b|)}",
  "{b|Land Flux (S}{s|LAND}{b| \u2212E}{s|LUC}{b|)}",
  "{b|Ocean Flux (S}{s|OCEAN}{b|)}",
];
const rowLabelY = [158, 437, 717];
rowLabels.forEach((t, r) => graphics.push(txt(1373, rowLabelY[r], t, 19, { rich: richSub })));

graphics.push({
  type: "text", x: 28, y: 437, rotation: Math.PI / 2, silent: true,
  style: {
    text: "{b|CO}{s|2}{b| Flux (GtCO}{s|2}{b| yr}{p|\u22121}{b|)}",
    rich: richSub, align: "center", verticalAlign: "middle", fill: GREY_TXT, fontFamily: FONT, fontSize: 19,
  },
});

// legend keys
const legendItems = [
  { x: 256, key: colors.proc, label: "{b|Process \u2013based models (DGVMs and GOBMs)}" },
  { x: 735, key: colors.inv, label: "{b|Inversions}" },
  { x: 884, key: colors.fco2, label: "{i|f}{b|CO}{s|2}{b|-products}" },
];
legendItems.forEach((it) => {
  graphics.push({ type: "rect", silent: true, shape: { x: it.x, y: 922, width: 27, height: 26 }, style: { fill: it.key.key } });
  graphics.push({ type: "line", silent: true, shape: { x1: it.x, y1: 935, x2: it.x + 27, y2: 935 }, style: { stroke: it.key.line, lineWidth: 2 } });
  graphics.push(txt(it.x + 38, 935, it.label, 19, { rich: richSub, align: "left" }));
});

const chart = echarts.init(document.getElementById("chart"), null, { renderer: "canvas" });
chart.setOption({
  animation: false,
  backgroundColor: "#ffffff",
  grid: grids,
  xAxis: xAxes,
  yAxis: yAxes,
  series: series,
  graphic: graphics,
});
</script>
</body>
</html>
